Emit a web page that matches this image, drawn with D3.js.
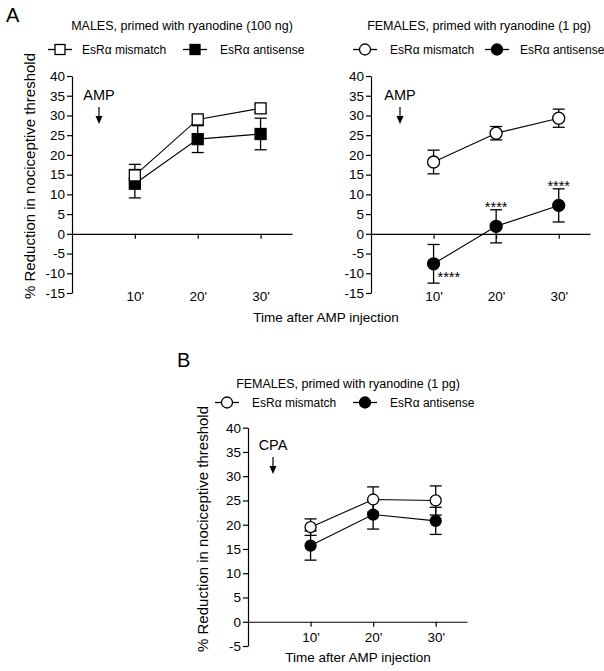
<!DOCTYPE html>
<html>
<head>
<meta charset="utf-8">
<script src="https://cdn.jsdelivr.net/npm/d3@7"></script>
<style>
  html, body { margin: 0; padding: 0; background: #fff; }
  svg { display: block; font-family: "Liberation Sans", Arial, Helvetica, sans-serif; }
</style>
</head>
<body>
<svg id="chart" width="604" height="671"></svg>
<script>
// ---------------- DATA ----------------
const timePoints = [10, 20, 30];
const timeLabels = ["10'", "20'", "30'"];
const yTicksA = [-15, -10, -5, 0, 5, 10, 15, 20, 25, 30, 35, 40];
const yTicksB = [-5, 0, 5, 10, 15, 20, 25, 30, 35, 40];
const seriesNames = ["EsR\u03b1 mismatch", "EsR\u03b1 antisense"];

// Panel A, males (ryanodine 100 ng)
const malesMismatch = [14.8, 29.0, 31.8];
const malesMismatchSem = [2.8, 1.0, 1.0];
const malesAntisense = [12.7, 24.0, 25.3];
const malesAntisenseSem = [3.6, 3.4, 4.0];

// Panel A, females (ryanodine 1 pg)
const femalesMismatch = [18.2, 25.5, 29.3];
const femalesMismatchSem = [3.0, 1.7, 2.3];
const femalesAntisense = [-7.6, 1.9, 7.2];
const femalesAntisenseSem = [4.9, 4.2, 4.2];
const femalesStars = ["****", "****", "****"];

// Panel B, females, CPA
const cpaMismatch = [19.5, 25.2, 25.0];
const cpaMismatchSem = [1.7, 2.6, 3.0];
const cpaAntisense = [15.7, 22.1, 20.8];
const cpaAntisenseSem = [3.0, 3.0, 2.8];

// ---------------- DRAW ----------------
const svg = d3.select("#chart");

function drawMarker(g, shape, filled, cx, cy, size) {
  const fill = filled ? "#000" : "#fff";
  if (shape === "square") {
    g.append("rect").attr("x", cx - size / 2).attr("y", cy - size / 2)
      .attr("width", size).attr("height", size)
      .attr("fill", fill).attr("stroke", "#000").attr("stroke-width", 1.3);
  } else {
    g.append("circle").attr("cx", cx).attr("cy", cy).attr("r", size / 2)
      .attr("fill", fill).attr("stroke", "#000").attr("stroke-width", 1.3);
  }
}

function panel(cfg) {
  const g = svg.append("g");
  const x = d3.scaleLinear().domain([0, 35]).range([cfg.x0, cfg.x1]);
  const y = d3.scaleLinear().domain([cfg.yTicks[0], cfg.yTicks[cfg.yTicks.length - 1]]).range([cfg.yb, cfg.yt]);

  // y axis
  const ya = g.append("g").attr("transform", `translate(${cfg.x0},0)`)
    .call(d3.axisLeft(y).tickValues(cfg.yTicks).tickSize(5).tickSizeOuter(0).tickPadding(2).tickFormat(d => String(d)));
  ya.selectAll("path,line").attr("stroke", "#000").attr("stroke-width", 1.2);
  ya.selectAll("text").attr("font-size", 13.5).attr("fill", "#000")
    .attr("font-family", "Liberation Sans, Arial, sans-serif");

  // x axis at zero
  const xa = g.append("g").attr("transform", `translate(0,${y(0)})`)
    .call(d3.axisBottom(x).tickValues(timePoints).tickSize(5).tickSizeOuter(0)
      .tickFormat((d, i) => timeLabels[i]));
  xa.selectAll("path,line").attr("stroke", "#000").attr("stroke-width", 1.2);
  xa.selectAll("text").attr("font-size", 13.5).attr("fill", "#000")
    .attr("font-family", "Liberation Sans, Arial, sans-serif")
    .attr("dy", null).attr("y", cfg.xLabelY - y(0));

  // title
  g.append("text").attr("x", cfg.titleX).attr("y", cfg.titleY).attr("text-anchor", "middle")
    .attr("font-size", 12.5).text(cfg.title);

  // legend
  cfg.legend.forEach((L, i) => {
    g.append("line").attr("x1", L.mx - 12).attr("x2", L.mx + 12).attr("y1", cfg.legendY - 4.5).attr("y2", cfg.legendY - 4.5)
      .attr("stroke", "#000").attr("stroke-width", 1.3);
    drawMarker(g, cfg.shape, i === 1, L.mx, cfg.legendY - 4.5, cfg.shape === "square" ? 10 : 11);
    g.append("text").attr("x", L.tx).attr("y", cfg.legendY).attr("font-size", 12).text(seriesNames[i]);
  });

  // injection arrow
  g.append("text").attr("x", cfg.arrowX).attr("y", cfg.arrowTextY).attr("text-anchor", "middle")
    .attr("font-size", 14.5).text(cfg.arrowLabel);
  g.append("line").attr("x1", cfg.arrowX).attr("x2", cfg.arrowX)
    .attr("y1", cfg.arrowTextY + 7).attr("y2", cfg.arrowTextY + 18)
    .attr("stroke", "#000").attr("stroke-width", 1.2);
  g.append("path").attr("d", `M${cfg.arrowX - 3.5},${cfg.arrowTextY + 16} L${cfg.arrowX + 3.5},${cfg.arrowTextY + 16} L${cfg.arrowX},${cfg.arrowTextY + 24} Z`)
    .attr("fill", "#000");

  // series: antisense first, mismatch on top
  const series = [
    { vals: cfg.anti, sem: cfg.antiSem, filled: true },
    { vals: cfg.mis, sem: cfg.misSem, filled: false }
  ];
  series.forEach(s => {
    const line = d3.line().x((d, i) => x(timePoints[i])).y(d => y(d));
    g.append("path").attr("d", line(s.vals)).attr("fill", "none").attr("stroke", "#000").attr("stroke-width", 1.1);
    s.vals.forEach((v, i) => {
      const cx = x(timePoints[i]);
      const lo = y(v - s.sem[i]), hi = y(v + s.sem[i]);
      g.append("line").attr("x1", cx).attr("x2", cx).attr("y1", lo).attr("y2", hi).attr("stroke", "#000").attr("stroke-width", 1.3);
      [lo, hi].forEach(yy => g.append("line").attr("x1", cx - 6).attr("x2", cx + 6).attr("y1", yy).attr("y2", yy)
        .attr("stroke", "#000").attr("stroke-width", 1.3));
    });
  });
  series.forEach(s => {
    s.vals.forEach((v, i) => drawMarker(g, cfg.shape, s.filled, x(timePoints[i]), y(v), cfg.markerSize));
  });

  // significance stars
  if (cfg.stars) {
    cfg.stars.forEach((st, i) => {
      const v = cfg.anti[i], e = cfg.antiSem[i];
      if (v < 0) {
        g.append("text").attr("x", x(timePoints[i]) + 4).attr("y", y(v) + 18).attr("font-size", 14.5).text(st);
      } else {
        g.append("text").attr("x", x(timePoints[i])).attr("y", y(v + e) + 2.5).attr("text-anchor", "middle")
          .attr("font-size", 14.5).text(st);
      }
    });
  }
  return { x, y };
}

// Panel A left
panel({
  x0: 72, x1: 292, yt: 76, yb: 293, yTicks: yTicksA, xLabelY: 301,
  title: "MALES, primed with ryanodine (100 ng)", titleX: 182, titleY: 30,
  legendY: 54, legend: [{ mx: 60, tx: 82 }, { mx: 195, tx: 220 }],
  shape: "square", markerSize: 11,
  arrowLabel: "AMP", arrowX: 99, arrowTextY: 100,
  mis: malesMismatch, misSem: malesMismatchSem, anti: malesAntisense, antiSem: malesAntisenseSem
});

// Panel A right
panel({
  x0: 371, x1: 590, yt: 76, yb: 293, yTicks: yTicksA, xLabelY: 301,
  title: "FEMALES, primed with ryanodine (1 pg)", titleX: 479, titleY: 30,
  legendY: 54, legend: [{ mx: 365, tx: 390 }, { mx: 497, tx: 520 }],
  shape: "circle", markerSize: 12,
  arrowLabel: "AMP", arrowX: 400, arrowTextY: 100,
  mis: femalesMismatch, misSem: femalesMismatchSem, anti: femalesAntisense, antiSem: femalesAntisenseSem,
  stars: femalesStars
});

// Panel B
panel({
  x0: 248, x1: 467, yt: 427.7, yb: 646, yTicks: yTicksB, xLabelY: 642,
  title: "FEMALES, primed with ryanodine (1 pg)", titleX: 348, titleY: 388,
  legendY: 407, legend: [{ mx: 227, tx: 252 }, { mx: 365, tx: 390 }],
  shape: "circle", markerSize: 11,
  arrowLabel: "CPA", arrowX: 273, arrowTextY: 450,
  mis: cpaMismatch, misSem: cpaMismatchSem, anti: cpaAntisense, antiSem: cpaAntisenseSem
});

// Panel letters
svg.append("text").attr("x", 6).attr("y", 22).attr("font-size", 20).text("A");
svg.append("text").attr("x", 177).attr("y", 367).attr("font-size", 20).text("B");

// Axis titles
svg.append("text").attr("transform", "translate(35,176) rotate(-90)").attr("text-anchor", "middle")
  .attr("font-size", 15).text("% Reduction in nociceptive threshold");
svg.append("text").attr("transform", "translate(208,529) rotate(-90)").attr("text-anchor", "middle")
  .attr("font-size", 15).text("% Reduction in nociceptive threshold");
svg.append("text").attr("x", 326).attr("y", 322).attr("text-anchor", "middle")
  .attr("font-size", 13.5).text("Time after AMP injection");
svg.append("text").attr("x", 358).attr("y", 662).attr("text-anchor", "middle")
  .attr("font-size", 13.5).text("Time after AMP injection");
</script>
</body>
</html>
